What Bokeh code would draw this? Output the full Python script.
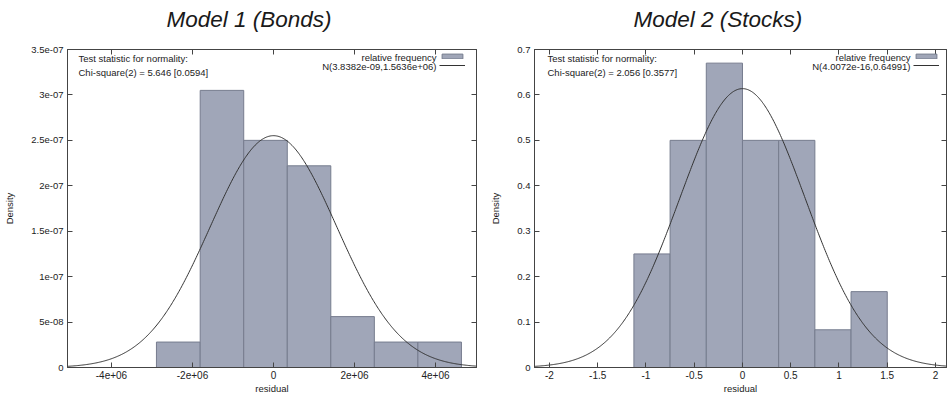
import numpy as np
from bokeh.plotting import figure
from bokeh.models import (FixedTicker, CustomJSTickFormatter, LinearAxis, Label,
                          Legend, LegendItem, Range1d, Title)
from bokeh.layouts import row
from bokeh.embed import file_html
from bokeh.resources import INLINE

# ---------------- data ----------------
titles = ["Model 1 (Bonds)", "Model 2 (Stocks)"]
stat_header = "Test statistic for normality:"
legend_hist = "relative frequency"

bonds_edges = [-2.89e6, -1.81e6, -0.735e6, 0.34e6, 1.415e6, 2.49e6, 3.565e6, 4.64e6]
bonds_density = [2.8e-08, 3.05e-07, 2.5e-07, 2.22e-07, 5.6e-08, 2.8e-08, 2.8e-08]
bonds_mean = 3.8382e-09
bonds_sd = 1.5636e+06
bonds_chi = "Chi-square(2) = 5.646 [0.0594]"
bonds_norm = "N(3.8382e-09,1.5636e+06)"
bonds_xticks = [-4e6, -2e6, 0, 2e6, 4e6]
bonds_xlabels = ["-4e+06", "-2e+06", "0", "2e+06", "4e+06"]
bonds_yticks = [0, 5e-08, 1e-07, 1.5e-07, 2e-07, 2.5e-07, 3e-07, 3.5e-07]
bonds_ylabels = ["0", "5e-08", "1e-07", "1.5e-07", "2e-07", "2.5e-07", "3e-07", "3.5e-07"]
bonds_xrange = (-5.086e6, 5.012e6)
bonds_yrange = (0, 3.5e-07)

stocks_edges = [-1.125, -0.75, -0.375, 0.0, 0.375, 0.75, 1.125, 1.5]
stocks_density = [0.25, 0.5, 0.67, 0.5, 0.5, 0.083, 0.167]
stocks_mean = 4.0072e-16
stocks_sd = 0.64991
stocks_chi = "Chi-square(2) = 2.056 [0.3577]"
stocks_norm = "N(4.0072e-16,0.64991)"
stocks_xticks = [-2, -1.5, -1, -0.5, 0, 0.5, 1, 1.5, 2]
stocks_xlabels = ["-2", "-1.5", "-1", "-0.5", "0", "0.5", "1", "1.5", "2"]
stocks_yticks = [0, 0.1, 0.2, 0.3, 0.4, 0.5, 0.6, 0.7]
stocks_ylabels = ["0", "0.1", "0.2", "0.3", "0.4", "0.5", "0.6", "0.7"]
stocks_xrange = (-2.155, 2.114)
stocks_yrange = (0, 0.7)

# ---------------- style ----------------
FONT = "Liberation Sans"
AX = "#444444"
TXT = "#222222"
BAR_FILL = "#a0a6b8"
BAR_LINE = "#767c8e"
CURVE = "#333333"
H = 396
TOP = 49
BOTTOM = 28
FRAME_TOP_PX, FRAME_BOT_PX = 49, 368


def fmt(tv, tl):
    return CustomJSTickFormatter(args=dict(tv=tv, tl=tl), code="""
        for (let i = 0; i < tv.length; i++) {
            if (Math.abs(tv[i] - tick) <= 1e-6 * Math.abs(tv[i])) return tl[i];
        }
        return "";
    """)


def panel(title, edges, dens, mean, sd, chi, norm, xt, xl, yt, yl, xr, yr,
          width, mb_left, mb_right, fl, fr, title_off, leg_right, stat_left):
    p = figure(width=width, height=H, output_backend="svg", toolbar_location=None,
               x_range=Range1d(*xr), y_range=Range1d(*yr),
               min_border_left=mb_left, min_border_right=mb_right,
               min_border_top=TOP, min_border_bottom=BOTTOM,
               background_fill_color="white", border_fill_color="white")
    p.outline_line_color = AX
    p.xgrid.visible = False
    p.ygrid.visible = False

    # title
    p.title.text = title
    p.title.text_font = FONT
    p.title.text_font_style = "italic"
    p.title.text_font_size = "22.5px"
    p.title.text_color = "#1a1a1a"
    p.title.align = "left"
    p.title.offset = title_off
    p.title.standoff = 4

    # bottom / left axes
    xa = p.below[0]
    xa.ticker = FixedTicker(ticks=xt)
    xa.formatter = fmt(xt, xl)
    xa.axis_label = "residual"
    ya = p.left[0]
    ya.ticker = FixedTicker(ticks=yt)
    ya.formatter = fmt(yt, yl)
    ya.axis_label = "Density"
    for a in (xa, ya):
        a.major_tick_in = 5
        a.major_tick_out = 0
        a.minor_tick_line_color = None
        a.axis_line_color = AX
        a.major_tick_line_color = AX
        a.major_label_text_font = FONT
        a.major_label_text_color = TXT
        a.axis_label_text_font = FONT
        a.axis_label_text_font_size = "9.5px"
        a.axis_label_text_font_style = "normal"
        a.axis_label_text_color = TXT
    xa.major_label_text_font_size = "10px"
    ya.major_label_text_font_size = "9.5px"
    xa.major_label_standoff = 3
    xa.axis_label_standoff = 1
    ya.major_label_standoff = 4
    ya.axis_label_standoff = 13

    # mirrored ticks (top / right)
    blank = CustomJSTickFormatter(code="return '';")
    for side, ticks in (("above", xt), ("right", yt)):
        ax = LinearAxis(ticker=FixedTicker(ticks=ticks), formatter=blank,
                        major_tick_in=5, major_tick_out=0,
                        minor_tick_line_color=None, axis_line_color=AX,
                        major_tick_line_color=AX, major_label_standoff=0,
                        major_label_text_font_size="1px")
        p.add_layout(ax, side)

    # spacer panel between the top axis and the title
    p.add_layout(Title(text=" ", text_font_size="1px", standoff=13), "above")

    # histogram
    q = p.quad(left=edges[:-1], right=edges[1:], bottom=0, top=dens,
               fill_color=BAR_FILL, line_color=BAR_LINE, line_width=1)

    # normal density curve from the stated parameters
    xs = np.linspace(xr[0], xr[1], 500)
    ys = np.exp(-0.5 * ((xs - mean) / sd) ** 2) / (sd * np.sqrt(2 * np.pi))
    ln = p.line(xs, ys, line_color=CURVE, line_width=1)

    # pixel -> data helpers for annotation placement
    def dx(px):
        return xr[0] + (px - fl) / (fr - fl) * (xr[1] - xr[0])

    def dy(py):
        return yr[0] + (FRAME_BOT_PX - py) / (FRAME_BOT_PX - FRAME_TOP_PX) * (yr[1] - yr[0])

    for txt, py in ((stat_header, 58), (chi, 72)):
        p.add_layout(Label(x=dx(stat_left), y=dy(py), text=txt, text_font=FONT,
                           text_font_size="9.5px", text_color=TXT,
                           text_baseline="middle", text_align="left"))
    for txt, py in ((legend_hist, 57), (norm, 66)):
        p.add_layout(Label(x=dx(leg_right), y=dy(py), text=txt, text_font=FONT,
                           text_font_size="9.5px", text_color=TXT,
                           text_baseline="middle", text_align="right"))

    leg = Legend(items=[LegendItem(label=" ", renderers=[q]),
                        LegendItem(label=" ", renderers=[ln])],
                 location=(leg_right + 3 - fl, FRAME_BOT_PX - 69),
                 glyph_width=26, glyph_height=6, label_width=0, label_height=6,
                 label_standoff=0, padding=0, spacing=3, margin=0,
                 label_text_font_size="1px",
                 border_line_color=None, background_fill_color=None)
    p.add_layout(leg)
    return p


p1 = panel(titles[0], bonds_edges, bonds_density, bonds_mean, bonds_sd, bonds_chi,
           bonds_norm, bonds_xticks, bonds_xlabels, bonds_yticks, bonds_ylabels,
           bonds_xrange, bonds_yrange, width=480, mb_left=67, mb_right=4,
           fl=67, fr=476, title_off=99, leg_right=436, stat_left=78)
p2 = panel(titles[1], stocks_edges, stocks_density, stocks_mean, stocks_sd, stocks_chi,
           stocks_norm, stocks_xticks, stocks_xlabels, stocks_yticks, stocks_ylabels,
           stocks_xrange, stocks_yrange, width=468, mb_left=54, mb_right=2,
           fl=534, fr=946, title_off=99, leg_right=910, stat_left=547)

layout = row(p1, p2)
open("out.html", "w").write(file_html(layout, INLINE))
